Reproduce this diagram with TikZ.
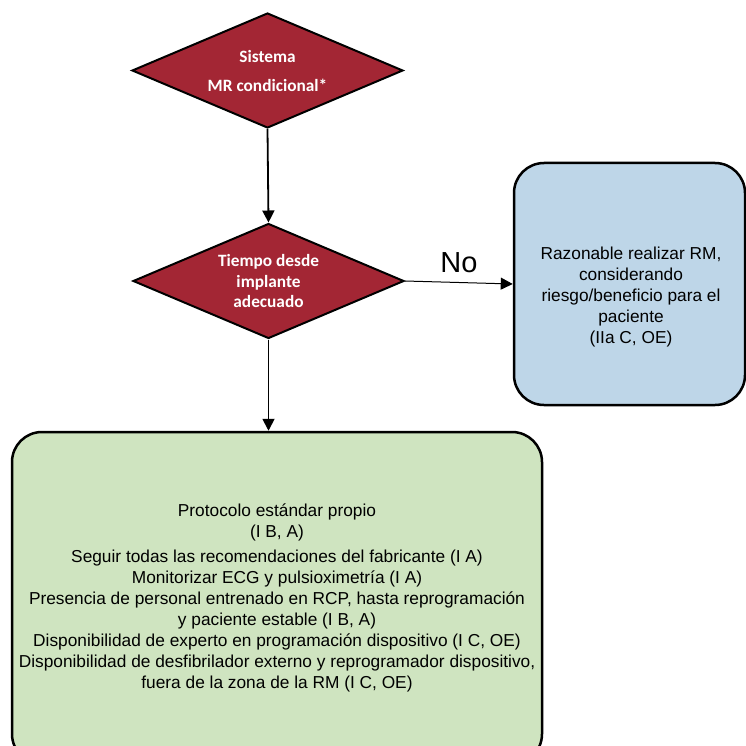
\documentclass[tikz,border=0pt]{standalone}
\usepackage{fontspec}
\setmainfont{Liberation Sans}
\newfontfamily\calibrifont{Carlito}
\usetikzlibrary{arrows.meta,shapes.geometric,positioning}
\definecolor{decisionred}{RGB}{163,38,52}
\definecolor{outcomeblue}{RGB}{190,214,232}
\definecolor{outcomegreen}{RGB}{207,228,192}
\tikzset{
    % Decision diamonds (dark red, white bold text)
    decision/.style={
        diamond, aspect=2.36, draw=black, fill=decisionred,
        minimum width=271pt, minimum height=115pt, inner sep=0pt,
        line width=2pt, align=center, text=white,
        font=\calibrifont\bfseries\fontsize{17.3}{20.5}\selectfont
    },
    % Rounded outcome boxes
    outcome/.style={
        rectangle, rounded corners=30pt, draw=black,
        line width=2.5pt, align=center,
        font=\fontsize{17.3}{21}\selectfont
    },
    bluebox/.style={outcome, fill=outcomeblue},
    greenbox/.style={outcome, fill=outcomegreen},
    % Connectors
    flow/.style={-{Triangle[length=12pt,width=12pt]}, line width=1.8pt},
}

\begin{document}
\begin{tikzpicture}[x=1pt,y=-1pt]
      \clip (0,0) rectangle (746,746);
      \node[decision] (system) at (267.5,70.5) {Sistema\\[8.5pt]MR condicional*};
      \node[decision] (time) at (268.5,281) {Tiempo desde\\implante\\adecuado};
      \node[bluebox, minimum width=231pt, minimum height=242pt] (reasonable) at (629.5,284) {};
      \node[font=\fontsize{17.3}{21}\selectfont, align=center] (reasonabletext) at (631,297)
        {Razonable realizar RM,\\considerando\\riesgo/beneficio para el\\paciente\\(IIa C, OE)};
      \node[greenbox, minimum width=530pt, minimum height=332pt] (protocol) at (277,598)
        {Protocolo estándar propio\\(I B, A)\\[4pt]
         Seguir todas las recomendaciones del fabricante (I A)\\
         Monitorizar ECG y pulsioximetría (I A)\\
         Presencia de personal entrenado en RCP, hasta reprogramación\\
         y paciente estable (I B, A)\\
         Disponibilidad de experto en programación dispositivo (I C, OE)\\
         Disponibilidad de desfibrilador externo y reprogramador dispositivo,\\
         fuera de la zona de la RM (I C, OE)};
      \draw[flow] (system.south) -- (time.north);
      \draw[flow] (time.south) -- (time.south |- protocol.north);
      \draw[flow, line width=1pt] (time.east) -- node[above=6pt, font=\fontsize{29}{32}\selectfont] {No} (reasonable.west);
    \end{tikzpicture}
\end{document}
